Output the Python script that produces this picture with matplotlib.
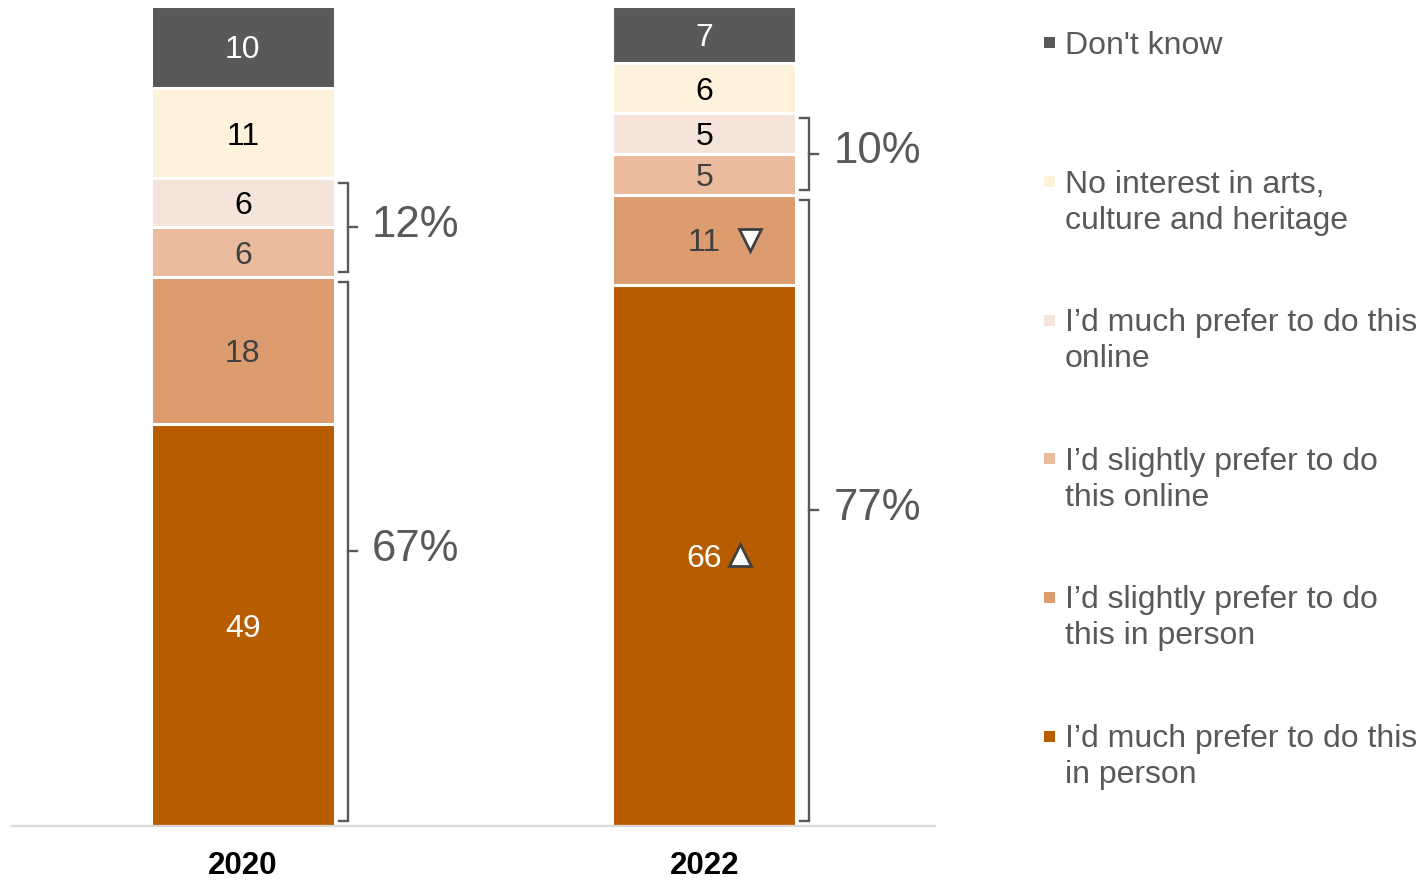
import matplotlib
matplotlib.use("Agg")
import matplotlib.pyplot as plt
from matplotlib.patches import Rectangle
import numpy as np

plt.rcParams['font.family'] = ['Liberation Sans', 'DejaVu Sans']

# Survey waves
years = ["2020", "2022"]

# Response categories, stacked bottom to top
categories = [
    "I’d much prefer to do this\nin person",
    "I’d slightly prefer to do\nthis in person",
    "I’d slightly prefer to do\nthis online",
    "I’d much prefer to do this\nonline",
    "No interest in arts,\nculture and heritage",
    "Don't know",
]

# Percentages per category (same order as categories)
much_in_person = [49, 66]
slightly_in_person = [18, 11]
slightly_online = [6, 5]
much_online = [6, 5]
no_interest = [11, 6]
dont_know = [10, 7]

# Significant change flags vs previous wave (None / "up" / "down")
flags_much_in_person = [None, "up"]
flags_slightly_in_person = [None, "down"]

series = [much_in_person, slightly_in_person, slightly_online,
          much_online, no_interest, dont_know]
flags = [flags_much_in_person, flags_slightly_in_person,
         [None, None], [None, None], [None, None], [None, None]]

colors = ["#B85C00", "#DC9C70", "#EABB9C", "#F5E4DA", "#FFF2DC", "#595959"]
label_colors = ["white", "#404040", "#404040", "black", "black", "white"]
grey = "#595959"

W, H = 1422, 880
fig = plt.figure(figsize=(W / 100, H / 100), dpi=100)
ax = fig.add_axes([12 / W, (H - 826) / H, (935 - 12) / W, (826 - 6) / H])

x = np.arange(len(years))
bar_w = 0.398
bottom = np.zeros(len(years))
for vals, col, lcol, flg in zip(series, colors, label_colors, flags):
    vals = np.array(vals, dtype=float)
    ax.bar(x, vals, bar_w, bottom=bottom, color=col, edgecolor="white",
           linewidth=2.2, zorder=2)
    for i, v in enumerate(vals):
        yc = bottom[i] + v / 2
        ax.text(x[i], yc, f"{v:.0f}", ha="center", va="center_baseline",
                fontsize=23, color=lcol, zorder=4)
        if flg[i] is not None:
            dx = 0.078 if flg[i] == "up" else 0.099
            ax.plot(x[i] + dx, yc, marker="^" if flg[i] == "up" else "v",
                    markersize=16, markerfacecolor="white",
                    markeredgecolor="#404040", markeredgewidth=2.0,
                    linestyle="none", zorder=5)
    bottom += vals

# Net brackets: in-person total and online total
in_person = np.array(much_in_person) + np.array(slightly_in_person)
online = np.array(much_online) + np.array(slightly_online)
spans = [(np.zeros(2), in_person), (in_person, in_person + online)]
bx = bar_w / 2 + 0.029
arm = 0.0195
inset = 0.6
for lo, hi in spans:
    for i in range(len(years)):
        xv = x[i] + bx
        y0, y1 = lo[i] + inset, hi[i] - inset
        ax.plot([xv - arm, xv, xv, xv - arm], [y0, y0, y1, y1],
                color=grey, linewidth=1.7, solid_joinstyle="miter", zorder=3)
        ym = (y0 + y1) / 2
        ax.plot([xv, xv + arm], [ym, ym], color=grey, linewidth=1.7, zorder=3)
        ax.text(xv + 0.052, ym + 0.75, f"{hi[i] - lo[i]:.0f}%", ha="left",
                va="center_baseline", fontsize=31.5, color=grey)

ax.set_xlim(-0.5, 1.5)
ax.set_ylim(0, 100)
for s in ["top", "right", "left"]:
    ax.spines[s].set_visible(False)
ax.spines["bottom"].set_color("#D9D9D9")
ax.spines["bottom"].set_linewidth(1.6)
ax.set_yticks([])
ax.set_xticks(x)
ax.set_xticklabels(years, fontsize=22.5, fontweight="bold",
                   family=["Liberation Sans Narrow", "Liberation Sans"])
ax.tick_params(axis="x", length=0, pad=18)

# Legend, top to bottom
leg_items = list(zip(categories, colors))[::-1]
base0 = 54
step = 138.6
line_step = 36
for k, (lab, col) in enumerate(leg_items):
    yb = base0 + k * step
    fig.add_artist(Rectangle(((1049 - 5.5) / W, 1 - (yb - 11 + 5.5) / H),
                             11 / W, 11 / H, transform=fig.transFigure,
                             facecolor=col, edgecolor="none"))
    for j, line in enumerate(lab.split("\n")):
        fig.text(1065 / W, 1 - (yb + j * line_step) / H, line,
                 ha="left", va="baseline", fontsize=23, color=grey)

fig.savefig("out.png", dpi=100)
